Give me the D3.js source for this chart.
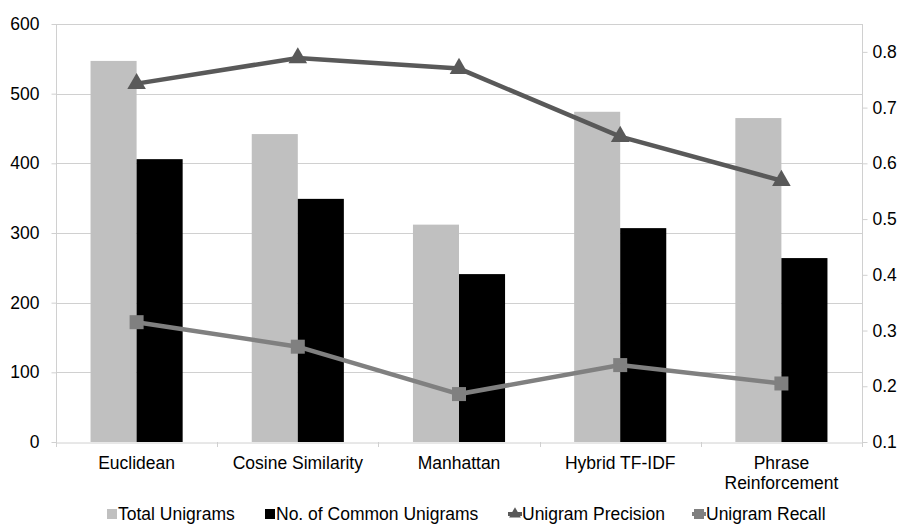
<!DOCTYPE html>
<html>
<head>
<meta charset="utf-8">
<title>Unigram chart</title>
<style>
  body { margin: 0; background: #fff; font-family: "Liberation Sans", Arial, sans-serif; }
  svg text { font-family: "Liberation Sans", Arial, sans-serif; fill: #000; }
</style>
</head>
<body>
<div id="chart"></div>
<script src="https://d3js.org/d3.v7.min.js"></script>
<script>
const categories = ["Euclidean", "Cosine Similarity", "Manhattan", "Hybrid TF-IDF", "Phrase Reinforcement"];
const totalUnigrams = [547, 442, 312, 474, 465];
const commonUnigrams = [406, 349, 241, 307, 264];
const precision = [0.743, 0.789, 0.770, 0.648, 0.569];
const recall = [0.315, 0.271, 0.186, 0.238, 0.205];
const leftTicks = [0, 100, 200, 300, 400, 500, 600];
const rightTicks = [0.1, 0.2, 0.3, 0.4, 0.5, 0.6, 0.7, 0.8];
const barSeries = ["Total Unigrams", "No. of Common Unigrams"];

const width = 903, height = 526;
const plot = { left: 56, right: 862, top: 24, bottom: 442 };
const fontSize = "17.5px";

const svg = d3.select("#chart").append("svg")
  .attr("width", width).attr("height", height);

const x = d3.scaleBand().domain(categories).range([plot.left, plot.right]);
const x1 = d3.scaleBand().domain(barSeries).range([0, x.bandwidth()]).paddingOuter(0.75);
const yL = d3.scaleLinear().domain([0, 600]).range([plot.bottom, plot.top]);
const yR = d3.scaleLinear().domain([0.1, 0.85]).range([plot.bottom, plot.top]);

const gridColor = "#d0d0d0";

// gridlines
svg.append("g").selectAll("line").data(leftTicks.slice(1)).join("line")
  .attr("x1", plot.left).attr("x2", plot.right)
  .attr("y1", d => Math.round(yL(d)) + 0.5).attr("y2", d => Math.round(yL(d)) + 0.5)
  .attr("stroke", gridColor);

// bars
const barData = [totalUnigrams, commonUnigrams];
const barColors = ["#c0c0c0", "#000000"];
barSeries.forEach((s, i) => {
  svg.append("g").selectAll("rect").data(categories).join("rect")
    .attr("x", c => x(c) + x1(s))
    .attr("width", x1.bandwidth())
    .attr("y", (c, j) => yL(barData[i][j]))
    .attr("height", (c, j) => plot.bottom - yL(barData[i][j]))
    .attr("fill", barColors[i]);
});

// axes
const leftAxis = svg.append("g").attr("transform", `translate(${plot.left + 0.5},0)`)
  .call(d3.axisLeft(yL).tickValues(leftTicks).tickSize(5).tickPadding(12));
const rightAxis = svg.append("g").attr("transform", `translate(${plot.right + 0.5},0)`)
  .call(d3.axisRight(yR).tickValues(rightTicks).tickSize(5).tickPadding(5).tickFormat(d3.format(".1f")));
const bottomAxis = svg.append("g").attr("transform", `translate(0,${plot.bottom + 0.5})`)
  .call(d3.axisBottom(x).tickSize(0).tickPadding(14));

[leftAxis, rightAxis, bottomAxis].forEach(a => {
  a.selectAll("path").attr("stroke", gridColor);
  a.selectAll("line").attr("stroke", gridColor);
  a.selectAll("text").style("font-size", fontSize).attr("fill", "#000");
});
leftAxis.select(".domain").attr("d", `M0,${plot.top}V${plot.bottom}`);
rightAxis.select(".domain").attr("d", `M0,${plot.top}V${plot.bottom}`);

// category boundary ticks
const bounds = categories.map(c => x(c)).concat([plot.right]);
svg.append("g").selectAll("line").data(bounds).join("line")
  .attr("x1", d => Math.round(d) + 0.5).attr("x2", d => Math.round(d) + 0.5)
  .attr("y1", plot.bottom).attr("y2", plot.bottom + 5)
  .attr("stroke", gridColor);

// wrap long category label
bottomAxis.selectAll(".tick text").each(function(d) {
  if (d === "Phrase Reinforcement") {
    const t = d3.select(this);
    t.text(null);
    t.append("tspan").attr("x", 0).attr("dy", "0.71em").text("Phrase");
    t.append("tspan").attr("x", 0).attr("dy", "1.15em").text("Reinforcement");
    t.attr("dy", null);
  }
});

// lines
const cx = c => x(c) + x.bandwidth() / 2;
const line = d3.line().x(d => cx(d.c)).y(d => yR(d.v));
const precData = categories.map((c, i) => ({ c, v: precision[i] }));
const recData = categories.map((c, i) => ({ c, v: recall[i] }));
const precColor = "#595959", recColor = "#808080";

svg.append("path").datum(precData).attr("d", line)
  .attr("fill", "none").attr("stroke", precColor).attr("stroke-width", 4.5);
svg.append("g").selectAll("path").data(precData).join("path")
  .attr("transform", d => `translate(${cx(d.c)},${yR(d.v)})`)
  .attr("d", d3.symbol(d3.symbolTriangle, 150))
  .attr("fill", precColor);

svg.append("path").datum(recData).attr("d", line)
  .attr("fill", "none").attr("stroke", recColor).attr("stroke-width", 4.5);
svg.append("g").selectAll("rect").data(recData).join("rect")
  .attr("x", d => cx(d.c) - 7).attr("y", d => yR(d.v) - 7)
  .attr("width", 14).attr("height", 14)
  .attr("fill", recColor);

// legend
const legendY = 514;
const legend = svg.append("g").style("font-size", fontSize);
const legendItems = [
  { label: "Total Unigrams", x: 107, type: "bar", color: "#c0c0c0" },
  { label: "No. of Common Unigrams", x: 265, type: "bar", color: "#000000" },
  { label: "Unigram Precision", x: 508, type: "tri", color: precColor },
  { label: "Unigram Recall", x: 692, type: "sq", color: recColor }
];
legendItems.forEach(it => {
  const g = legend.append("g");
  if (it.type === "bar") {
    g.append("rect").attr("x", it.x).attr("y", legendY - 5).attr("width", 10).attr("height", 10).attr("fill", it.color);
    g.append("text").attr("x", it.x + 11).attr("y", legendY).attr("dy", "0.35em").text(it.label);
  } else {
    g.append("line").attr("x1", it.x).attr("x2", it.x + 14).attr("y1", legendY).attr("y2", legendY)
      .attr("stroke", it.color).attr("stroke-width", 4);
    if (it.type === "tri") {
      g.append("path").attr("transform", `translate(${it.x + 7},${legendY})`)
        .attr("d", d3.symbol(d3.symbolTriangle, 60)).attr("fill", it.color);
    } else {
      g.append("rect").attr("x", it.x + 2).attr("y", legendY - 5).attr("width", 10).attr("height", 10).attr("fill", it.color);
    }
    g.append("text").attr("x", it.x + 14).attr("y", legendY).attr("dy", "0.35em").text(it.label);
  }
});
</script>
</body>
</html>
